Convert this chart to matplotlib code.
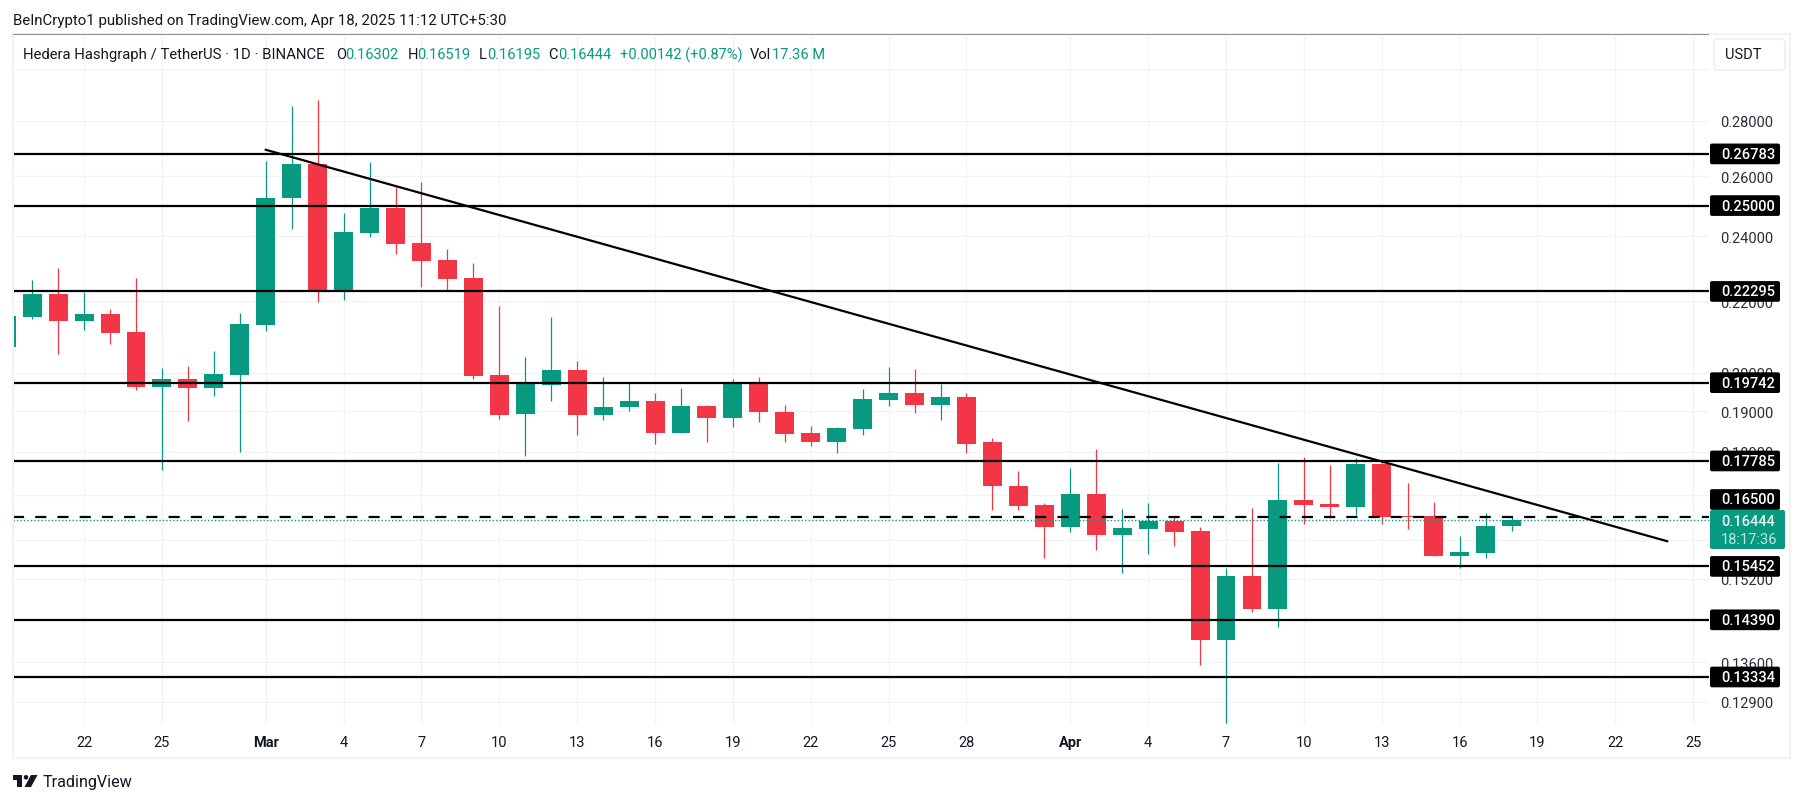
import matplotlib
matplotlib.use('Agg')
import matplotlib.pyplot as plt
from matplotlib.patches import Rectangle, FancyBboxPatch, Circle, Polygon
from matplotlib.transforms import IdentityTransform

plt.rcParams['font.family'] = ['Roboto', 'DejaVu Sans']

# days counted from Mar 1 2025, first candle is Feb 19
days = list(range(-10, 49))
opens = [.2069, .2156, .2222, .2142, .2164, .2112, .1964, .1984, .1961, .1995,
         .2133, .2525, .2643, .2234, .2411, .2492, .2378, .2325, .2270, .1995,
         .1894, .1968, .2008, .1891, .1910, .1927, .1847, .1914, .1884, .1976,
         .1898, .1846, .1825, .1857, .1929, .1946, .1917, .1936, .1824, .1720,
         .1677, .1629, .1702, .1612, .1625, .1642, .1620, .1400, .1526, .1460,
         .1688, .1680, .1673, .1771, .1652, .1652, .1567, .1573, .16302]
highs = [.2158, .2264, .2300, .2229, .2177, .2270, .2012, .2019, .2059, .2166,
         .2652, .2855, .2878, .2475, .2650, .2564, .2580, .2360, .2315, .2187,
         .2042, .2155, .2032, .1988, .1973, .1948, .1960, .1916, .1983, .1990,
         .1916, .1863, .1861, .1957, .2015, .2011, .1971, .1948, .1833, .1755,
         .1682, .1762, .1807, .1668, .1682, .1651, .1629, .1542, .1670, .1774,
         .1787, .1768, .1785, .1781, .1726, .1683, .1609, .1659, .16519]
lows = [.2069, .2150, .2052, .2118, .2080, .1955, .1758, .1877, .1940, .1801,
        .2116, .2424, .2199, .2204, .2396, .2344, .2244, .2234, .1985, .1882,
        .1791, .1927, .1842, .1879, .1902, .1820, .1845, .1823, .1862, .1874,
        .1823, .1815, .1798, .1840, .1914, .1897, .1878, .1798, .1666, .1666,
        .1563, .1618, .1580, .1532, .1571, .1588, .1355, .1254, .1454, .1426,
        .1635, .1648, .1654, .1635, .1624, .1566, .1541, .1563, .16195]
closes = [.2158, .2222, .2142, .2164, .2110, .1964, .1984, .1959, .1997, .2135,
          .2525, .2643, .2234, .2414, .2492, .2376, .2323, .2268, .1993, .1891,
          .1973, .2008, .1891, .1911, .1927, .1847, .1914, .1884, .1976, .1899,
          .1844, .1825, .1858, .1931, .1946, .1917, .1936, .1820, .1719, .1675,
          .1629, .1702, .1612, .1627, .1642, .1618, .1400, .1526, .1460, .1688,
          .1677, .1673, .1771, .1651, .1651, .1567, .1575, .1631, .16444]

# horizontal support / resistance levels
levels = [0.26783, 0.25000, 0.22295, 0.19742, 0.17785, 0.15452, 0.14390, 0.13334]
dashed_level = 0.16500
last_price = 0.16444
trend_days = [0, 54]
trend_prices = [0.2693, 0.1598]

price_ticks = [0.30, 0.28, 0.26, 0.24, 0.22, 0.20, 0.19, 0.18, 0.17, 0.16, 0.152, 0.136, 0.129]
price_labels = ['', '0.28000', '0.26000', '0.24000', '0.22000', '0.20000', '0.19000',
                '0.18000', '', '', '0.15200', '0.13600', '0.12900']
date_ticks = [-7, -4, 0, 3, 6, 9, 12, 15, 18, 21, 24, 27, 31, 34, 37, 40, 43, 46, 49, 52, 55]
date_labels = ['22', '25', 'Mar', '4', '7', '10', '13', '16', '19', '22', '25', '28',
               'Apr', '4', '7', '10', '13', '16', '19', '22', '25']

GREEN = '#089981'
RED = '#F23645'
INK = '#131722'
GRID = '#F2F3F5'
W, H = 1804, 803
PX = IdentityTransform()


def img_y(y):
    # picture rows count from the top, display coords from the bottom
    return H - y - 1


def label(x, y, s, color=INK, size=10.5, weight='normal', ha='left'):
    return fig.text(x, img_y(y), s, color=color, fontsize=size, fontweight=weight,
                    ha=ha, va='center', transform=PX, zorder=6)


def tag(y, h, s, w=70, color='black'):
    box = FancyBboxPatch((1710, img_y(y) - h / 2), w, h, boxstyle='round,pad=0,rounding_size=2',
                         facecolor=color, edgecolor='none', transform=PX, zorder=5)
    fig.add_artist(box)
    label(1721, y, s, color='white', weight=500)


fig = plt.figure(figsize=(W / 100, H / 100), dpi=100, facecolor='white')
ax = fig.add_axes([13 / W, (H - 726) / H, (1709 - 13) / W, (726 - 35) / H])
ax.set_yscale('log')
ax.set_xlim(-9.74, 55.61)
ax.set_ylim(0.12507, 0.31426)
for side in ax.spines.values():
    side.set_visible(False)

ax.yaxis.tick_right()
ax.set_yticks(price_ticks)
ax.set_yticklabels(price_labels, fontsize=10.5, color='#2A2E39')
ax.minorticks_off()
ax.set_xticks(date_ticks)
ax.set_xticklabels(date_labels, fontsize=10.5, color=INK)
for t in ax.get_xticklabels():
    if t.get_text() in ('Mar', 'Apr'):
        t.set_fontweight('bold')
ax.tick_params(axis='both', length=0)
ax.tick_params(axis='y', pad=8)
ax.tick_params(axis='x', pad=7.5)
ax.grid(True, color=GRID, linewidth=0.9)
ax.set_axisbelow(True)

# candles
colors = [GREEN if c >= o else RED for o, c in zip(opens, closes)]
ax.vlines(days, lows, highs, colors=colors, linewidth=0.9, zorder=2)
ax.bar(days, [abs(c - o) for o, c in zip(opens, closes)],
       bottom=[min(o, c) for o, c in zip(opens, closes)],
       width=0.73, color=colors, linewidth=0, zorder=3)

# levels and trendline
for lv in levels:
    ax.axhline(lv, color='black', linewidth=1.6, zorder=4)
ax.axhline(dashed_level, color='black', linewidth=1.6, linestyle=(0, (5, 5)), zorder=4)
ax.axhline(last_price, color=GREEN, linewidth=1.0, linestyle=(0, (1, 1.5)), zorder=4)
ax.plot(trend_days, trend_prices, color='black', linewidth=1.6, zorder=4)

# frame around chart and price scale
fig.add_artist(Rectangle((13, img_y(758)), 1777, 724, fill=False, edgecolor='#F1F2F5',
                         linewidth=1.5, transform=PX, zorder=1))
fig.add_artist(Rectangle((13, img_y(34.5)), 1696, 1, facecolor='#8C8C8C', edgecolor='none',
                         transform=PX, zorder=2))

# header
label(13, 20, 'BeInCrypto1 published on TradingView.com, Apr 18, 2025 11:12 UTC+5:30', size=10.85)
label(23, 54, 'Hedera Hashgraph / TetherUS · 1D · BINANCE', size=10.7)
for x, s in [(336, 'O'), (407.6, 'H'), (478.8, 'L'), (548, 'C'), (750, 'Vol')]:
    label(x, 54, s)
for x, s in [(345.6, '0.16302'), (417, '0.16519'), (486.8, '0.16195'), (558, '0.16444'),
             (620, '+0.00142 (+0.87%)'), (771.5, '17.36 M')]:
    label(x, 54, s, color=GREEN)

# USDT button
fig.add_artist(FancyBboxPatch((1714, img_y(70)), 71, 31, boxstyle='round,pad=0,rounding_size=3',
                              facecolor='white', edgecolor='#EFEFF2', linewidth=1.2, transform=PX, zorder=5))
label(1725, 54.5, 'USDT')

# price tags, y taken from the axis scale
for lv in levels:
    y = H - 1 - ax.transData.transform((0, lv))[1]
    tag(y, 20.7, '%.5f' % lv)
tag(499.5, 20.7, '%.5f' % dashed_level)
fig.add_artist(FancyBboxPatch((1710, img_y(549)), 75, 39, boxstyle='round,pad=0,rounding_size=2',
                              facecolor=GREEN, edgecolor='none', transform=PX, zorder=5))
label(1721, 521, '%.5f' % last_price, color='#E8F6F3', weight=500)
label(1721, 539, '18:17:36', color='#BFE6DD')

# TradingView logo
fig.add_artist(Polygon([(13, img_y(775)), (22, img_y(775)), (22, img_y(787)), (17, img_y(787)),
                        (17, img_y(779.5)), (13, img_y(779.5))], facecolor='#131722',
                       edgecolor='none', transform=PX, zorder=5))
fig.add_artist(Circle((26, img_y(777.3)), 2.3, facecolor='#131722', edgecolor='none', transform=PX, zorder=5))
fig.add_artist(Polygon([(31, img_y(775)), (37.5, img_y(775)), (31, img_y(787)), (24.5, img_y(787))],
                       facecolor='#131722', edgecolor='none', transform=PX, zorder=5))
label(42.5, 782, 'TradingView', size=11.6)

fig.savefig('out.png', dpi=100)
